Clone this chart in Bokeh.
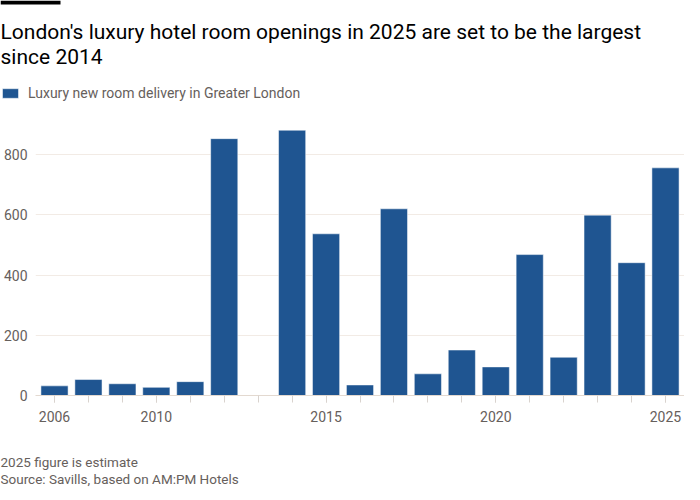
from bokeh.plotting import figure
from bokeh.models import (Range1d, FixedTicker, Legend, LegendItem,
                          ColumnDataSource, BoxAnnotation, Label)
from bokeh.embed import file_html
from bokeh.resources import INLINE

# ---- data ----
years = [2007, 2008, 2009, 2010, 2011, 2012, 2014, 2015, 2016, 2017,
         2018, 2019, 2020, 2021, 2022, 2023, 2024, 2025]
rooms = [32, 53, 39, 27, 46, 853, 881, 537, 35, 620,
         72, 151, 95, 468, 127, 599, 441, 756]
all_years = list(range(2007, 2026))
tick_years = [2007, 2010, 2015, 2020, 2025]
tick_labels = ["2006", "2010", "2015", "2020", "2025"]
y_ticks = [0, 200, 400, 600, 800]
grid_ticks = [200, 400, 600, 800]

title_1 = "London's luxury hotel room openings in 2025 are set to be the largest"
title_2 = "since 2014"
series_name = "Luxury new room delivery in Greater London"
note = "2025 figure is estimate"
source = "Source: Savills, based on AM:PM Hotels"

FONT = "Roboto"
GREY = "#66605c"
BLUE = "#1f5591"
W = 684

src = ColumnDataSource(dict(year=years, rooms=rooms))


def blank(height):
    f = figure(width=W, height=height, output_backend="svg", toolbar_location=None,
               x_axis_type=None, y_axis_type=None, min_border=0, title_location=None,
               x_range=Range1d(0, W), y_range=Range1d(height, 0))
    f.outline_line_color = None
    f.grid.visible = False
    return f


# ---------- header: black bar, title, legend ----------
HEAD_H = 112
head = blank(HEAD_H)
head.add_layout(BoxAnnotation(left=0, right=60, top=0, bottom=4,
                              fill_color="black", fill_alpha=1, line_color=None))
for txt, yy in ((title_1, 31), (title_2, 56)):
    head.add_layout(Label(x=0, y=yy, text=txt, text_font=FONT, text_font_size="21px",
                          text_color="black", text_baseline="alphabetic",
                          text_align="left"))
# same series, drawn in the header's pixel space (falls outside its view) -> legend swatch
swatch = head.vbar(x="year", top="rooms", width=0.8, source=src, fill_color=BLUE,
                   line_color="white", line_alpha=0.5)
legend = Legend(items=[LegendItem(label=series_name, renderers=[swatch])],
                orientation="horizontal", location=(0, 11),
                glyph_width=20, glyph_height=12, label_standoff=8,
                label_text_font=FONT, label_text_font_size="14px",
                label_text_color=GREY, padding=0, margin=0, spacing=0,
                border_line_color=None, background_fill_alpha=0)
head.add_layout(legend, "center")

# ---------- main chart ----------
p = figure(width=W, height=320,
           x_range=Range1d(2006.44, 2025.56), y_range=Range1d(0, 900),
           output_backend="svg", toolbar_location=None, title_location=None,
           min_border_left=26, min_border_right=0,
           min_border_top=12, min_border_bottom=37)
p.outline_line_color = None

bars = p.vbar(x="year", top="rooms", width=0.8, source=src,
              fill_color=BLUE, line_color="white", line_alpha=0.5, line_width=1)

p.yaxis.ticker = FixedTicker(ticks=y_ticks)
p.yaxis.axis_line_color = None
p.yaxis.major_tick_line_color = None
p.yaxis.minor_tick_line_color = None
p.yaxis.major_label_text_font = FONT
p.yaxis.major_label_text_font_size = "14px"
p.yaxis.major_label_text_color = GREY
p.yaxis.major_label_standoff = 2
p.ygrid.ticker = FixedTicker(ticks=grid_ticks)
p.ygrid.grid_line_color = "#f2ebe5"

p.xaxis.ticker = FixedTicker(ticks=tick_years, minor_ticks=all_years)
p.xaxis.major_label_overrides = dict(zip(tick_years, tick_labels))
p.xaxis.axis_line_color = "#e3d9d0"
p.xaxis.major_tick_line_color = "#d9d3ce"
p.xaxis.minor_tick_line_color = "#d9d3ce"
p.xaxis.major_tick_in = 0
p.xaxis.major_tick_out = 7
p.xaxis.minor_tick_in = 0
p.xaxis.minor_tick_out = 7
p.xaxis.major_label_text_font = FONT
p.xaxis.major_label_text_font_size = "14px"
p.xaxis.major_label_text_color = GREY
p.xaxis.major_label_standoff = 8
p.xgrid.grid_line_color = None

# ---------- footer ----------
FOOT_H = 60
foot = blank(FOOT_H)
for txt, yy in ((note, 29), (source, 46)):
    foot.add_layout(Label(x=0, y=yy, text=txt, text_font=FONT, text_font_size="13.5px",
                          text_color=GREY, text_baseline="middle", text_align="left"))

open("out.html", "w").write(file_html([head, p, foot], INLINE))
